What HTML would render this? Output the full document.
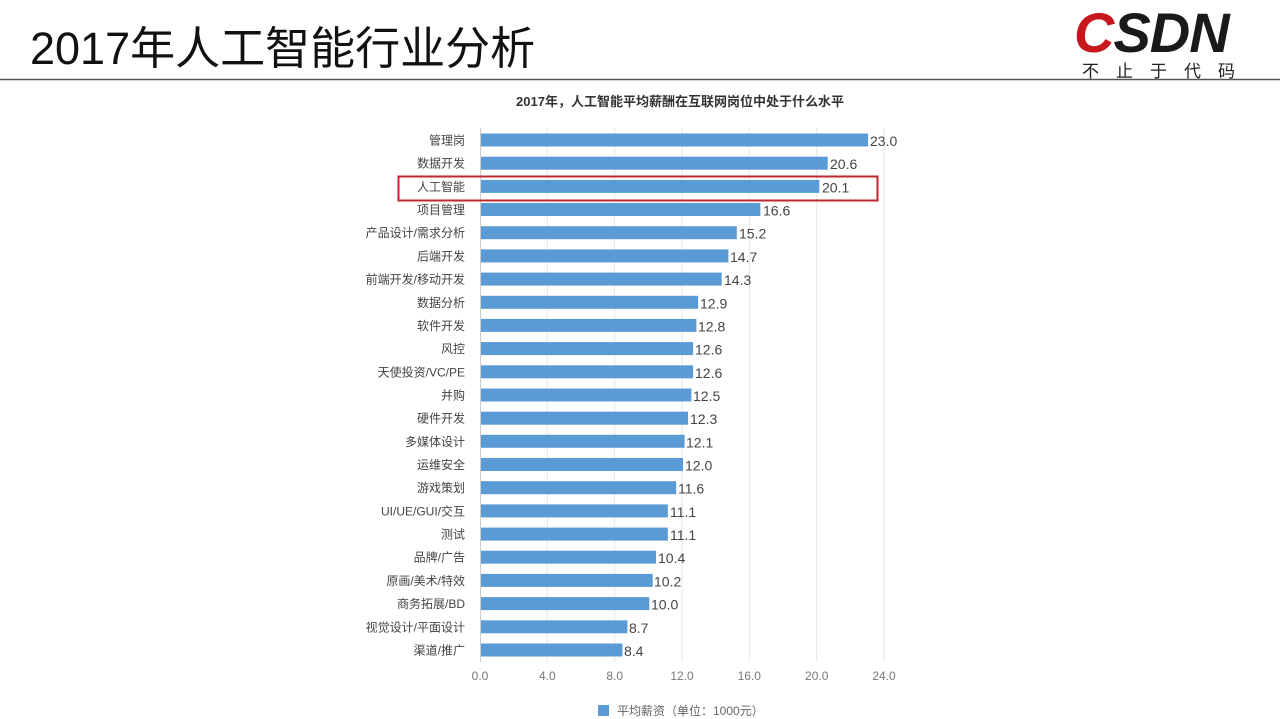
<!DOCTYPE html>
<html><head><meta charset="utf-8"><style>
body{margin:0;background:#fff;}
svg{display:block;font-family:"Liberation Sans","Noto Sans CJK SC",sans-serif;}
</style></head><body>
<svg width="1280" height="719" xmlns="http://www.w3.org/2000/svg">
<text x="30" y="64" font-size="45" fill="#111">2017年人工智能行业分析</text>
<line x1="0" y1="79.5" x2="1280" y2="79.5" stroke="#555" stroke-width="1.5"/>
<text x="1074" y="52" font-size="56" font-weight="bold" font-style="italic" fill="#c8161d" letter-spacing="-1">C<tspan fill="#1a1a1a">SDN</tspan></text>
<text x="1082" y="77" font-size="17" fill="#222" letter-spacing="17">不止于代码</text>
<text x="680" y="106" font-size="13" font-weight="bold" fill="#333" text-anchor="middle">2017年，人工智能平均薪酬在互联网岗位中处于什么水平</text>
<g stroke="#e6e6e6" stroke-width="1">
<line x1="547.3" y1="128" x2="547.3" y2="662"/><line x1="614.7" y1="128" x2="614.7" y2="662"/><line x1="682" y1="128" x2="682" y2="662"/><line x1="749.3" y1="128" x2="749.3" y2="662"/><line x1="816.7" y1="128" x2="816.7" y2="662"/><line x1="884" y1="128" x2="884" y2="662"/>
</g>
<line x1="480.5" y1="128" x2="480.5" y2="662" stroke="#ccc"/>
<g fill="#5b9bd5">
<rect x="481" y="133.5" width="387.1" height="13"/>
<rect x="481" y="156.7" width="346.7" height="13"/>
<rect x="481" y="179.9" width="338.3" height="13"/>
<rect x="481" y="203.0" width="279.4" height="13"/>
<rect x="481" y="226.2" width="255.8" height="13"/>
<rect x="481" y="249.4" width="247.4" height="13"/>
<rect x="481" y="272.6" width="240.7" height="13"/>
<rect x="481" y="295.8" width="217.1" height="13"/>
<rect x="481" y="318.9" width="215.4" height="13"/>
<rect x="481" y="342.1" width="212.1" height="13"/>
<rect x="481" y="365.3" width="212.1" height="13"/>
<rect x="481" y="388.5" width="210.4" height="13"/>
<rect x="481" y="411.7" width="207.0" height="13"/>
<rect x="481" y="434.8" width="203.6" height="13"/>
<rect x="481" y="458.0" width="202.0" height="13"/>
<rect x="481" y="481.2" width="195.2" height="13"/>
<rect x="481" y="504.4" width="186.8" height="13"/>
<rect x="481" y="527.6" width="186.8" height="13"/>
<rect x="481" y="550.7" width="175.0" height="13"/>
<rect x="481" y="573.9" width="171.7" height="13"/>
<rect x="481" y="597.1" width="168.3" height="13"/>
<rect x="481" y="620.3" width="146.4" height="13"/>
<rect x="481" y="643.5" width="141.4" height="13"/>
</g>
<g font-size="12" fill="#444" text-anchor="end">
<text x="465" y="144.5">管理岗</text>
<text x="465" y="167.7">数据开发</text>
<text x="465" y="190.9">人工智能</text>
<text x="465" y="214.0">项目管理</text>
<text x="465" y="237.2">产品设计/需求分析</text>
<text x="465" y="260.4">后端开发</text>
<text x="465" y="283.6">前端开发/移动开发</text>
<text x="465" y="306.8">数据分析</text>
<text x="465" y="329.9">软件开发</text>
<text x="465" y="353.1">风控</text>
<text x="465" y="376.3">天使投资/VC/PE</text>
<text x="465" y="399.5">并购</text>
<text x="465" y="422.7">硬件开发</text>
<text x="465" y="445.8">多媒体设计</text>
<text x="465" y="469.0">运维安全</text>
<text x="465" y="492.2">游戏策划</text>
<text x="465" y="515.4">UI/UE/GUI/交互</text>
<text x="465" y="538.6">测试</text>
<text x="465" y="561.7">品牌/广告</text>
<text x="465" y="584.9">原画/美术/特效</text>
<text x="465" y="608.1">商务拓展/BD</text>
<text x="465" y="631.3">视觉设计/平面设计</text>
<text x="465" y="654.5">渠道/推广</text>
</g>
<g font-size="14" fill="#444">
<text x="870" y="146">23.0</text>
<text x="830" y="169.2">20.6</text>
<text x="822" y="192.4">20.1</text>
<text x="763" y="215.5">16.6</text>
<text x="739" y="238.7">15.2</text>
<text x="730" y="261.9">14.7</text>
<text x="724" y="285.1">14.3</text>
<text x="700" y="308.3">12.9</text>
<text x="698" y="331.4">12.8</text>
<text x="695" y="354.6">12.6</text>
<text x="695" y="377.8">12.6</text>
<text x="693" y="401">12.5</text>
<text x="690" y="424.2">12.3</text>
<text x="686" y="447.3">12.1</text>
<text x="685" y="470.5">12.0</text>
<text x="678" y="493.7">11.6</text>
<text x="670" y="516.9">11.1</text>
<text x="670" y="540.1">11.1</text>
<text x="658" y="563.2">10.4</text>
<text x="654" y="586.4">10.2</text>
<text x="651" y="609.6">10.0</text>
<text x="629" y="632.8">8.7</text>
<text x="624" y="656">8.4</text>
</g>
<rect x="398.5" y="176.5" width="479" height="24" fill="none" stroke="#c0262d" stroke-width="2"/>
<g font-size="12" fill="#777" text-anchor="middle">
<text x="480" y="680">0.0</text><text x="547.3" y="680">4.0</text><text x="614.7" y="680">8.0</text><text x="682" y="680">12.0</text><text x="749.3" y="680">16.0</text><text x="816.7" y="680">20.0</text><text x="884" y="680">24.0</text>
</g>
<rect x="598" y="705" width="11" height="11" fill="#5b9bd5"/>
<text x="617" y="715" font-size="12" fill="#666">平均薪资（单位：1000元）</text>
</svg>
</body></html>
